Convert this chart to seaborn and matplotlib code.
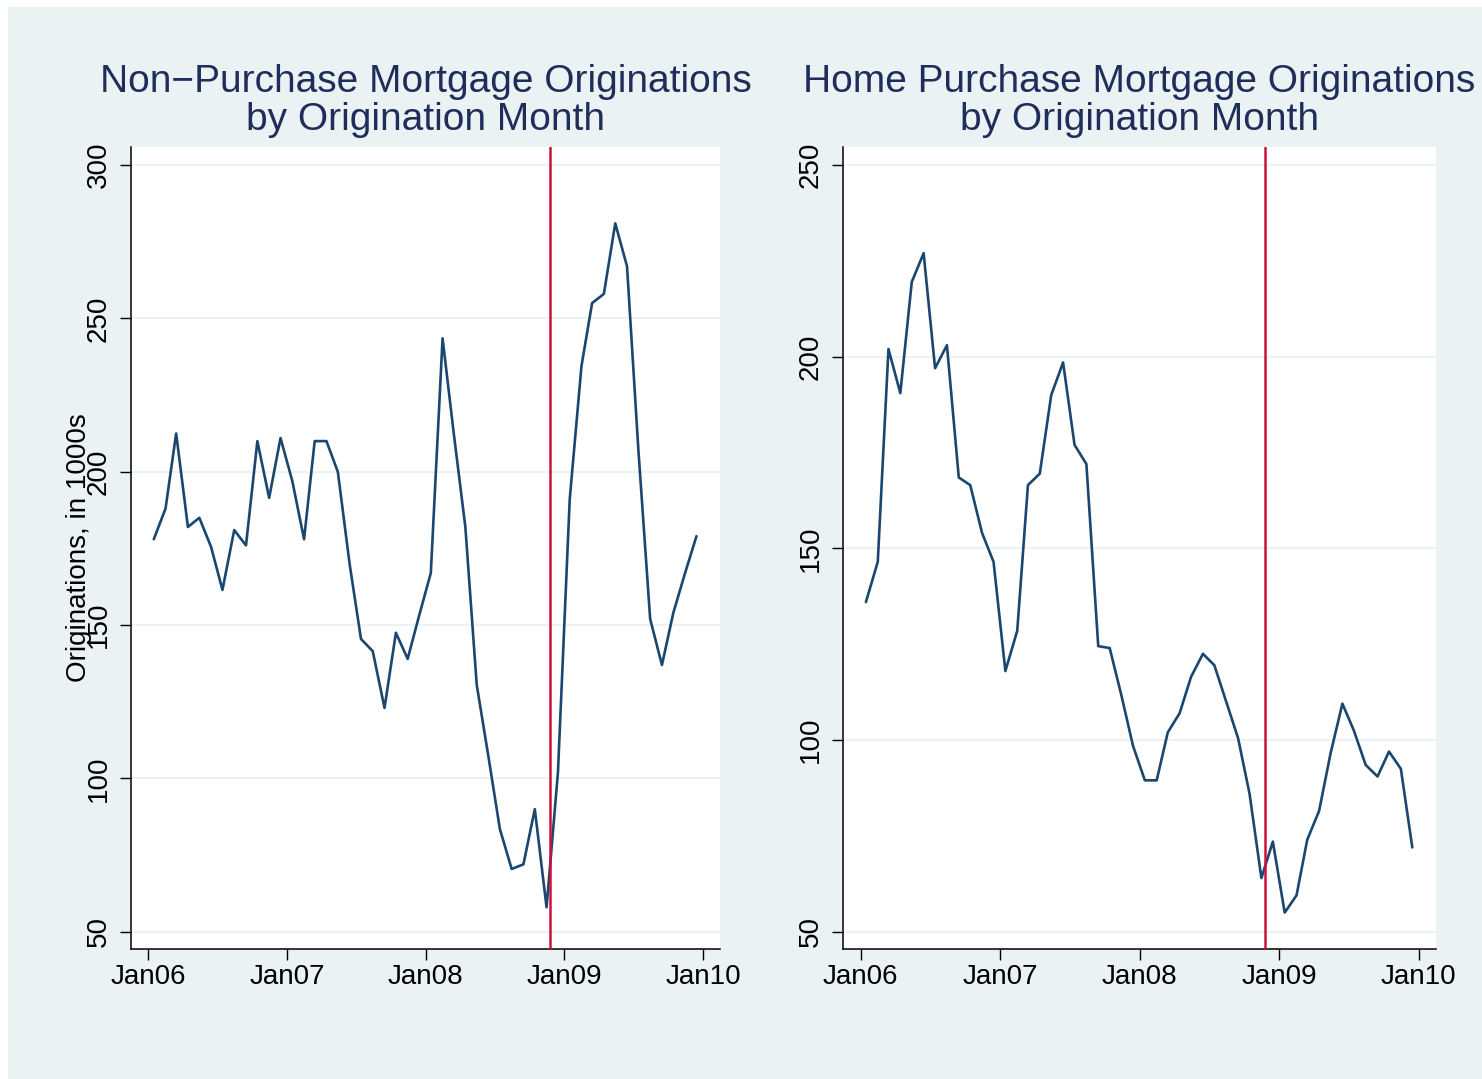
import pandas as pd
import numpy as np
import seaborn as sns
import matplotlib.pyplot as plt

# monthly data, Jan 2006 - Dec 2009 (plotted mid-month)
months = pd.date_range("2006-01-01", "2009-12-01", freq="MS") + pd.Timedelta(days=14)

non_purchase = [178, 188, 212.5, 182, 185, 175.5, 161.5, 181, 176, 210, 191.5, 211,
                197, 178, 210, 210, 200, 170, 145.5, 141.5, 123, 147.5, 139, 153,
                167, 243.5, 213, 182, 130.5, 107, 83.5, 70.5, 72, 90, 58, 102,
                191, 234.5, 255, 258, 281, 267, 207, 152, 137, 154, 167, 179]

home_purchase = [136, 146.5, 202, 190.5, 219.5, 227, 197, 203, 168.5, 166.5, 154, 146.5,
                 118, 128.5, 166.5, 169.5, 190, 198.5, 177, 172, 124.5, 124, 111.5, 98.5,
                 89.5, 89.5, 102, 107, 116.5, 122.5, 119.5, 110, 100.5, 86, 64, 73.5,
                 55, 59.5, 74, 81.5, 96.5, 109.5, 102.5, 93.5, 90.5, 97, 92.5, 72]

titles = ["Non\u2212Purchase Mortgage Originations\nby Origination Month",
          "Home Purchase Mortgage Originations\nby Origination Month"]
y_ticks = [[50, 100, 150, 200, 250, 300], [50, 100, 150, 200, 250]]
y_limits = [(44.4, 305.9), (45.5, 254.7)]
x_tick_dates = pd.to_datetime(["2006-01-01", "2007-01-01", "2008-01-01", "2009-01-01", "2010-01-01"])
x_tick_labels = ["Jan06", "Jan07", "Jan08", "Jan09", "Jan10"]
event_date = pd.Timestamp("2008-11-25")

bg = "#EAF2F3"
navy = "#1A476F"
title_col = "#1E2D5A"

sns.set_theme(style="white")
plt.rcParams["font.family"] = ["Liberation Sans", "DejaVu Sans"]
plt.rcParams["text.color"] = "black"
plt.rcParams["xtick.color"] = "black"
plt.rcParams["ytick.color"] = "black"
plt.rcParams["axes.labelcolor"] = "black"

W, H = 1482, 1079
fig = plt.figure(figsize=(W / 100, H / 100), dpi=100, facecolor="white")
fig.patches.append(plt.Rectangle((8 / W, 0), 1, 1 - 7 / H, transform=fig.transFigure,
                                 facecolor=bg, edgecolor="none", zorder=-10))

boxes = [(131, 720), (843, 1436)]
top, bottom = 147, 949
series = [non_purchase, home_purchase]

for i in range(2):
    l, r = boxes[i]
    ax = fig.add_axes([l / W, 1 - bottom / H, (r - l) / W, (bottom - top) / H])
    ax.set_facecolor("white")
    for yt in y_ticks[i]:
        ax.axhline(yt, color=bg, lw=1.3, zorder=0)
    sns.lineplot(x=months, y=series[i], ax=ax, color=navy, linewidth=1.9, zorder=3)
    ax.axvline(event_date, color="#D0103A", lw=1.8, zorder=4)

    ax.set_ylim(*y_limits[i])
    ax.set_xlim(pd.Timestamp("2005-11-16"), pd.Timestamp("2010-02-15"))
    ax.set_yticks(y_ticks[i])
    ax.set_yticklabels([str(v) for v in y_ticks[i]], rotation=90, va="center")
    ax.set_xticks(x_tick_dates)
    ax.set_xticklabels(x_tick_labels)
    ax.tick_params(axis="y", length=8, width=1.0, color="black", labelcolor="black",
                   pad=6, labelsize=20, left=True)
    ax.tick_params(axis="x", length=8, width=1.0, color="black", labelcolor="black",
                   pad=3, labelsize=20, bottom=True)
    for s in ["top", "right"]:
        ax.spines[s].set_visible(False)
    for s in ["left", "bottom"]:
        ax.spines[s].set_color("black")
        ax.spines[s].set_linewidth(1.1)
    ax.grid(False)
    ax.set_xlabel("")
    ax.set_title(titles[i], fontsize=28, color=title_col, linespacing=1.08, pad=12)
    if i == 0:
        # Stata-style label sits on top of the tick labels, as in the original
        ax.set_ylabel("Originations, in 1000s", fontsize=20, color="black")
        ax.yaxis.set_label_coords(-0.066, 0.5)
    else:
        ax.set_ylabel("")

fig.savefig("out.png", dpi=100, facecolor="white")
